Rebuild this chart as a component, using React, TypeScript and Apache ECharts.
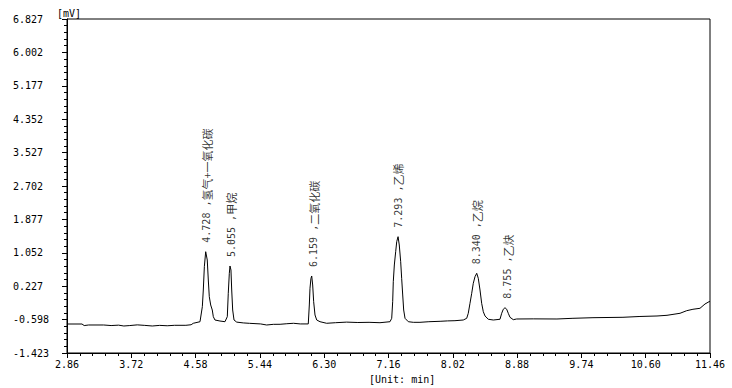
import React, { useEffect, useRef } from "react";
import * as echarts from "echarts";

// Chromatogram trace: retention time (min) and signal (mV)
const traceTime = [
  2.86, 3.06, 3.09, 3.15, 3.35, 3.45, 3.55, 3.62, 3.7, 3.8, 3.9, 4.0, 4.1, 4.2, 4.3, 4.45, 4.52,
  4.549, 4.639, 4.67, 4.683, 4.697, 4.715, 4.736, 4.75, 4.763, 4.782, 4.803, 4.817, 4.839, 4.906, 4.973,
  5.004, 5.017, 5.031, 5.04, 5.053, 5.063, 5.076, 5.094, 5.13, 5.218, 5.3, 5.45, 5.53, 5.62, 5.71, 5.8,
  5.89, 5.98, 6.087, 6.101, 6.11, 6.123, 6.133, 6.146, 6.159, 6.177, 6.2, 6.244, 6.333, 6.45, 6.6, 6.75,
  6.9, 7.046, 7.18, 7.203, 7.216, 7.224, 7.238, 7.256, 7.27, 7.288, 7.304, 7.323, 7.336, 7.35, 7.363,
  7.381, 7.425, 7.492, 7.581, 7.7, 7.85, 7.95, 8.049, 8.16, 8.206, 8.227, 8.25, 8.273, 8.294, 8.317,
  8.34, 8.361, 8.384, 8.406, 8.428, 8.451, 8.495, 8.562, 8.651, 8.674, 8.695, 8.718, 8.741, 8.762,
  8.785, 8.829, 8.874, 9.096, 9.413, 9.627, 9.895, 10.296, 10.523, 10.751, 10.885, 11.059, 11.148,
  11.232, 11.326, 11.393, 11.447, 11.46,
];
const traceMv = [
  -0.707, -0.707, -0.745, -0.731, -0.731, -0.745, -0.735, -0.756, -0.745, -0.728, -0.741, -0.756, -0.741,
  -0.75, -0.739, -0.739, -0.725, -0.689, -0.65, -0.279, 0.133, 0.709, 1.079, 0.874, 0.38, -0.032, -0.237,
  -0.361, -0.526, -0.608, -0.633, -0.65, -0.526, 0.052, 0.546, 0.726, 0.627, 0.133, -0.361, -0.608, -0.66,
  -0.68, -0.69, -0.705, -0.731, -0.715, -0.714, -0.7, -0.689, -0.705, -0.705, -0.237, 0.175, 0.422, 0.479,
  0.257, -0.156, -0.484, -0.608, -0.65, -0.689, -0.675, -0.66, -0.67, -0.665, -0.675, -0.65, -0.566,
  -0.156, 0.338, 0.751, 1.079, 1.327, 1.45, 1.245, 0.832, 0.422, 0.01, -0.361, -0.566, -0.65, -0.665,
  -0.665, -0.65, -0.64, -0.63, -0.625, -0.608, -0.566, -0.442, -0.195, 0.052, 0.299, 0.462, 0.546, 0.422,
  0.133, -0.195, -0.403, -0.509, -0.59, -0.608, -0.59, -0.442, -0.343, -0.304, -0.343, -0.442, -0.541,
  -0.6, -0.583, -0.58, -0.583, -0.566, -0.551, -0.541, -0.521, -0.509, -0.492, -0.442, -0.378, -0.343,
  -0.319, -0.213, -0.156, -0.15,
];

// Peak annotations
const peakTimes = [4.728, 5.055, 6.159, 7.293, 8.34, 8.755];
const peakHeights = [1.079, 0.726, 0.479, 1.45, 0.546, -0.304];
const peakNames = ["氢气+一氧化碳", "甲烷", "二氧化碳", "乙烯", "乙烷", "乙炔"];

// Axis tick labels
const xTickLabels = ["2.86", "3.72", "4.58", "5.44", "6.30", "7.16", "8.02", "8.88", "9.74", "10.60", "11.46"];
const yTickLabels = ["-1.423", "-0.598", "0.227", "1.052", "1.877", "2.702", "3.527", "4.352", "5.177", "6.002", "6.827"];

const X_MIN = 2.86;
const X_MAX = 11.46;
const Y_MIN = -1.423;
const Y_MAX = 6.827;

const MONO = "DejaVu Sans Mono";
const CJK = "Noto Sans CJK SC";

export default function App() {
  const ref = useRef<HTMLDivElement>(null);

  useEffect(() => {
    if (!ref.current) return;
    const chart = echarts.init(ref.current, undefined, { renderer: "svg" });

    const lineData = traceTime.map((t, i) => [t, traceMv[i]]);
    const peakData = peakTimes.map((t, i) => [t, peakHeights[i], peakNames[i]]);

    const tickAxisCommon = {
      type: "value" as const,
      min: 0,
      max: 10,
      interval: 1,
      splitLine: { show: false },
      axisLine: { show: true, lineStyle: { color: "#000", width: 1 } },
      axisTick: { show: true, inside: false, length: 5, lineStyle: { color: "#000" } },
      minorTick: { show: true, splitNumber: 5, length: 3, lineStyle: { color: "#000" } },
      minorSplitLine: { show: false },
    };

    chart.setOption({
      animation: false,
      backgroundColor: "#fff",
      grid: {
        left: 67,
        right: 22,
        top: 19,
        bottom: 35,
        show: true,
        borderColor: "#000",
        borderWidth: 1,
        backgroundColor: "transparent",
      },
      xAxis: [
        { type: "value", min: X_MIN, max: X_MAX, show: false },
        {
          ...tickAxisCommon,
          position: "bottom",
          axisLabel: {
            show: true,
            margin: 6,
            color: "#000",
            fontFamily: MONO,
            fontSize: 10,
            formatter: (v: number) => xTickLabels[Math.round(v)] ?? "",
          },
        },
      ],
      yAxis: [
        { type: "value", min: Y_MIN, max: Y_MAX, show: false },
        {
          ...tickAxisCommon,
          position: "left",
          axisLabel: {
            show: true,
            margin: 54,
            align: "left",
            color: "#000",
            fontFamily: MONO,
            fontSize: 10,
            formatter: (v: number) => yTickLabels[Math.round(v)] ?? "",
          },
        },
      ],
      graphic: [
        {
          type: "text",
          left: 57,
          top: 8,
          style: { text: "[mV]", fill: "#000", font: `10px '${MONO}'` },
        },
        {
          type: "text",
          left: 369,
          top: 374,
          style: { text: "[Unit: min]", fill: "#000", font: `10px '${MONO}'` },
        },
      ],
      series: [
        {
          type: "line",
          xAxisIndex: 0,
          yAxisIndex: 0,
          data: lineData,
          showSymbol: false,
          symbol: "none",
          lineStyle: { color: "#000", width: 1 },
          silent: true,
        },
        {
          type: "scatter",
          xAxisIndex: 0,
          yAxisIndex: 0,
          data: peakData,
          symbolSize: 0,
          silent: true,
          label: {
            show: true,
            position: "top",
            distance: 9,
            rotate: 90,
            align: "left",
            verticalAlign: "middle",
            color: "#000",
            formatter: (p: any) => `{n|${p.value[0].toFixed(3)} ,}{c|${p.value[2]}}`,
            rich: {
              n: { fontFamily: MONO, fontSize: 10, color: "#000" },
              c: { fontFamily: CJK, fontSize: 11, color: "#000" },
            },
          },
        },
      ],
    });

    return () => chart.dispose();
  }, []);

  return (
    <div
      ref={ref}
      style={{ position: "fixed", left: 0, top: 0, width: 732, height: 388, background: "#fff" }}
    />
  );
}
